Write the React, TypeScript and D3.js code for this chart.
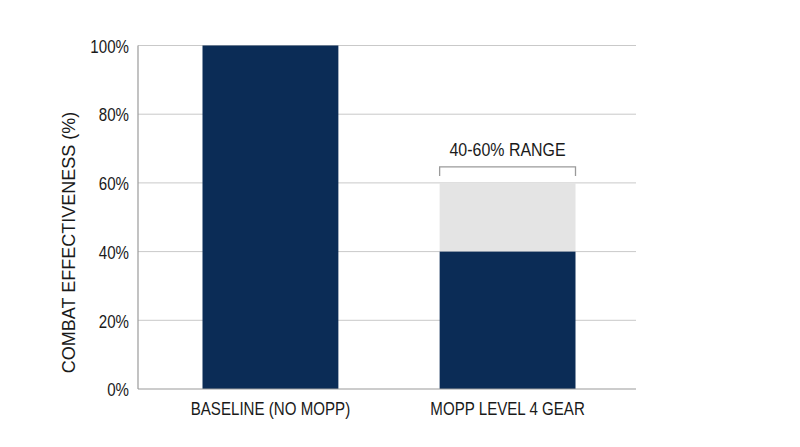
import * as d3 from "d3";

const categories = ["BASELINE (NO MOPP)", "MOPP LEVEL 4 GEAR"];
const effectiveLow = [100, 40];
const effectiveHigh = [100, 60];
const yTicks = [0, 20, 40, 60, 80, 100];
const rangeLabel = "40-60% RANGE";

const FONT = "'Liberation Sans', Arial, sans-serif";
const SQUEEZE = 0.84;

// narrow text: regular face squeezed horizontally around its anchor
function NarrowText({
  x,
  y,
  anchor = "middle",
  size = 18,
  dy,
  children,
}: {
  x: number;
  y: number;
  anchor?: "start" | "middle" | "end";
  size?: number;
  dy?: string;
  children: React.ReactNode;
}) {
  return (
    <text
      transform={`translate(${x} ${y}) scale(${SQUEEZE} 1)`}
      dy={dy}
      textAnchor={anchor}
      fontFamily={FONT}
      fontSize={size}
      fill="#1a1a1a"
    >
      {children}
    </text>
  );
}

export default function App() {
  const width = 800;
  const height = 447;
  const margin = { top: 45.5, right: 164, bottom: 58, left: 138 };
  const plotW = width - margin.left - margin.right;
  const plotH = height - margin.top - margin.bottom;

  const x = d3
    .scaleBand<string>()
    .domain(categories)
    .range([margin.left, margin.left + plotW + 4])
    .paddingInner(0.427)
    .paddingOuter(0.272);
  const y = d3.scaleLinear([0, 100], [margin.top + plotH, margin.top]);

  const navy = "#0b2c56";
  const lightGray = "#e4e4e4";

  const rangeCat = categories[1];
  const bx0 = x(rangeCat)!;
  const bx1 = bx0 + x.bandwidth();
  const bracketTop = y(effectiveHigh[1]) - 16;

  return (
    <svg
      width={width}
      height={height}
      viewBox={`0 0 ${width} ${height}`}
      style={{ position: "absolute", left: 0, top: 0, background: "#fff" }}
    >
      {yTicks.map((t) => (
        <g key={t}>
          {t > 0 && (
            <line
              x1={margin.left}
              x2={margin.left + plotW}
              y1={y(t)}
              y2={y(t)}
              stroke="#c9c9c9"
              strokeWidth={1}
            />
          )}
          <NarrowText x={margin.left - 9} y={y(t)} dy="0.4em" anchor="end">
            {t}%
          </NarrowText>
        </g>
      ))}

      {categories.map((c, i) => (
        <g key={c}>
          {effectiveHigh[i] > effectiveLow[i] && (
            <rect
              x={x(c)}
              y={y(effectiveHigh[i])}
              width={x.bandwidth()}
              height={y(effectiveLow[i]) - y(effectiveHigh[i])}
              fill={lightGray}
            />
          )}
          <rect
            x={x(c)}
            y={y(effectiveLow[i])}
            width={x.bandwidth()}
            height={y(0) - y(effectiveLow[i])}
            fill={navy}
          />
          <NarrowText
            x={x(c)! + x.bandwidth() / 2}
            y={margin.top + plotH + 25.5}
          >
            {c}
          </NarrowText>
        </g>
      ))}

      <line
        x1={margin.left}
        x2={margin.left}
        y1={margin.top}
        y2={margin.top + plotH}
        stroke="#9a9a9a"
        strokeWidth={1.2}
      />
      <line
        x1={margin.left}
        x2={margin.left + plotW}
        y1={margin.top + plotH}
        y2={margin.top + plotH}
        stroke="#9a9a9a"
        strokeWidth={1.2}
      />

      <path
        d={`M${bx0},${bracketTop + 9}V${bracketTop}H${bx1}V${bracketTop + 9}`}
        fill="none"
        stroke="#9a9a9a"
        strokeWidth={1.3}
      />
      <NarrowText x={(bx0 + bx1) / 2} y={bracketTop - 11} size={19}>
        {rangeLabel}
      </NarrowText>

      <text
        transform="translate(74.5 242.5) rotate(-90)"
        textAnchor="middle"
        fontFamily={FONT}
        fontSize={18}
        fill="#1a1a1a"
      >
        COMBAT EFFECTIVENESS (%)
      </text>
    </svg>
  );
}
